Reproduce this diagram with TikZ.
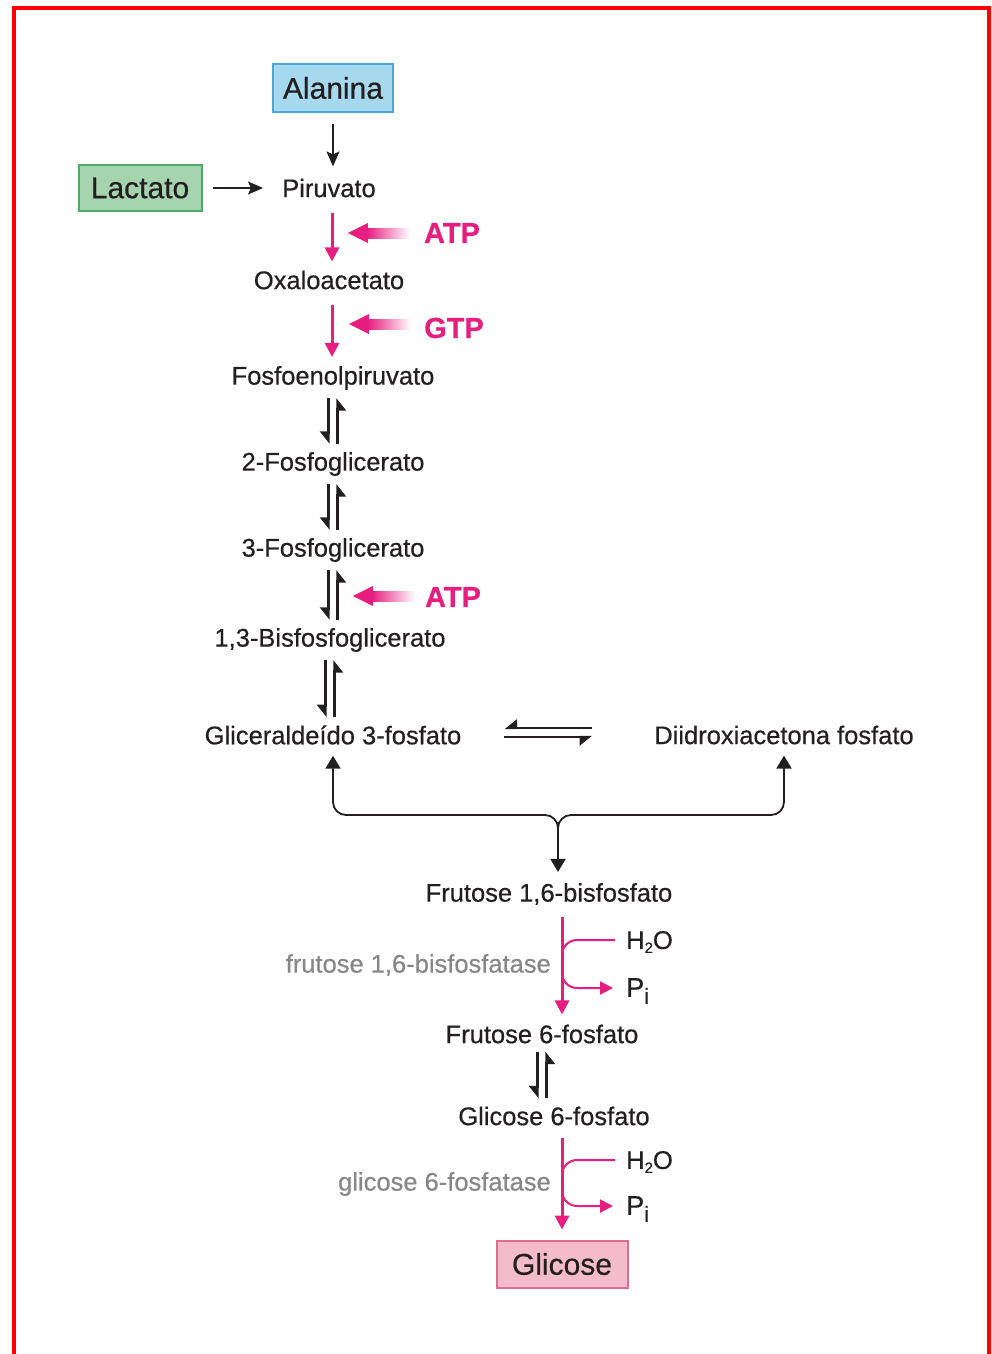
\documentclass[tikz,border=0pt]{standalone}
\usepackage{fontspec}
\setmainfont{Liberation Sans}[FakeBold=0.5]
\usetikzlibrary{arrows.meta,calc}
\definecolor{pinkarrow}{RGB}{231,30,128}
\definecolor{enzgray}{RGB}{135,135,135}
\definecolor{txt}{RGB}{35,31,32}
\definecolor{alafill}{RGB}{166,216,238}
\definecolor{aladraw}{RGB}{80,165,215}
\definecolor{lacfill}{RGB}{166,212,174}
\definecolor{lacdraw}{RGB}{76,170,100}
\definecolor{glcfill}{RGB}{244,188,202}
\definecolor{glcdraw}{RGB}{222,110,145}

\tikzset{
  met/.style={font=\fontsize{25.5}{30}\selectfont, text=txt, inner sep=0pt},
  enz/.style={font=\fontsize{25.5}{30}\selectfont, text=enzgray, inner sep=0pt, anchor=east},
  side/.style={font=\fontsize{25.5}{30}\selectfont, text=txt, inner sep=0pt, anchor=west},
  energy/.style={font=\fontsize{29}{32}\selectfont\bfseries, text=pinkarrow, inner sep=0pt},
  startbox/.style={font=\fontsize{30}{34}\selectfont, text=txt, inner sep=0pt, line width=2pt},
  blk/.style={draw=txt, line width=1.8pt, -{Stealth[length=15pt,width=13pt,inset=3pt]}},
  brk/.style={draw=txt, line width=1.8pt, rounded corners=13pt},
  brktip/.tip={Triangle[length=13pt,width=15pt]},
  pk/.style={draw=pinkarrow, line width=3pt, -{Triangle[length=14pt,width=14pt]}},
  pkbr/.style={draw=pinkarrow, line width=2pt, rounded corners=15pt},
  harp/.style={draw=txt, line width=2.4pt, -{Triangle[harpoon,swap,length=11pt,width=17pt]}},
}

% chemical formula pieces
\newcommand\water{H\raisebox{-4pt}{\fontsize{15}{15}\selectfont 2}O}
\newcommand\phosphate{{\fontsize{27}{30}\selectfont P}\raisebox{-7pt}{\fontsize{22}{22}\selectfont i}}

% two opposed half-arrows between two stacked metabolites
\newcommand\eqpair[3]{%
  \draw[harp, shorten <=#3, shorten >=#3] ([xshift=-4.5pt]#1.south) -- ([xshift=-4.5pt]#1.south |- #2.north);
  \draw[harp, shorten <=#3, shorten >=#3] ([xshift=4.5pt]#1.south |- #2.north) -- ([xshift=4.5pt]#1.south);
}
% faded energy arrow pointing left to the point #1
\newcommand\energyarrow[1]{%
  \fill[pinkarrow] (#1) -- ++(20,-10) -- ++(0,20) -- cycle;
  \shade[left color=pinkarrow, right color=white] ($(#1)+(19,-5)$) rectangle ($(#1)+(62,5)$);
}

\begin{document}
\begin{tikzpicture}[x=1pt,y=-1pt]
\useasboundingbox (0,0) rectangle (992,1354);

% frame
\draw[red, line width=4pt, line join=miter] (14,1364) -- (14,8) -- (989,8) -- (989,1364);

% starting substrates
\node[startbox, draw=aladraw, fill=alafill, minimum width=120pt, minimum height=47pt] (ala) at (333,88) {Alanina};
\node[startbox, draw=lacdraw, fill=lacfill, minimum width=123pt, minimum height=46pt] (lac) at (140,188) {Lactato};

% main pathway
\node[met] (piru) at (329,188) {Piruvato};
\node[met] (oxa) at (329,280) {Oxaloacetato};
\node[met] (pep) at (333,378) {Fosfoenolpiruvato};
\node[met] (pg2) at (333,464) {2-Fosfoglicerato};
\node[met] (pg3) at (333,550) {3-Fosfoglicerato};
\node[met] (bpg) at (330,640) {1,3-Bisfosfoglicerato};
\node[met] (gap) at (333,735) {Gliceraldeído 3-fosfato};
\node[met] (dhap) at (784,735) {Diidroxiacetona fosfato};
\node[met] (f16) at (549,894) {Frutose 1,6-bisfosfato};
\node[met] (f6p) at (542,1034) {Frutose 6-fosfato};
\node[met] (g6p) at (554,1116) {Glicose 6-fosfato};
\node[startbox, draw=glcdraw, fill=glcfill, minimum width=131pt, minimum height=47pt] (glc) at (562,1264) {Glicose};

% energy inputs
\node[energy] (atp1) at (452,233) {ATP};
\node[energy] (gtp) at (454,328) {GTP};
\node[energy] (atp2) at (453,597) {ATP};

% enzymes and side products
\node[enz] (fbpase) at (551,965) {frutose 1,6-bisfosfatase};
\node[enz] (g6pase) at (551,1184) {glicose 6-fosfatase};
\node[side] (h2o1) at (626,942) {\water};
\node[side] (pi1) at (626,991) {\phosphate};
\node[side] (h2o2) at (626,1162) {\water};
\node[side] (pi2) at (626,1209) {\phosphate};

% columns of the vertical connectors
\coordinate (colA) at (332,0);
\coordinate (colB) at (562,0);

% entry of alanine and lactate
\draw[blk, shorten <=11pt, shorten >=12pt] (ala.south) -- (ala.south |- piru.north);
\draw[blk, shorten <=10pt, shorten >=19pt] (lac.east) -- (piru.west);

% carboxylation and decarboxylation
\draw[pk, shorten <=15pt, shorten >=9pt] (colA |- piru.south) -- (colA |- oxa.north);
\draw[pk, shorten <=15pt, shorten >=9pt] (colA |- oxa.south) -- (colA |- pep.north);
\energyarrow{$(atp1.west)+(-76,0)$}
\energyarrow{$(gtp.west)+(-75,-4)$}
\energyarrow{$(atp2.west)+(-72,-1)$}

% reversible steps
\eqpair{pep}{pg2}{8pt}
\eqpair{pg2}{pg3}{8pt}
\eqpair{pg3}{bpg}{8pt}
\eqpair{bpg}{gap}{8pt}
\draw[harp] ([shift={(-62,-7)}]dhap.west) -- ([shift={(43,-7)}]gap.east);
\draw[harp] ([shift={(43,2)}]gap.east) -- ([shift={(-62,2)}]dhap.west);

% condensation of the two trioses
\coordinate (join) at (558,815);
\draw[brk, {brktip}-{brktip}] ($(gap.south)+(0,11)$) -- (gap.south |- join) -- (join) -- ($(join |- f16.north)+(0,-11)$);
\draw[brk, {brktip}-] ($(dhap.south)+(0,11)$) -- (dhap.south |- join) -- (join) -- ($(join)+(0,30)$);

% phosphatases
\draw[pk, shorten <=12pt, shorten >=10pt] (colB |- f16.south) -- (colB |- f6p.north);
\draw[pkbr] ($(h2o1.west)+(-11,-2)$) -- ($(colB |- h2o1.west)+(0,-2)$) -- ($(colB |- h2o1.west)+(0,22)$);
\draw[pkbr, -{Triangle[length=13pt,width=13pt]}] ($(colB |- pi1.west)+(0,-24)$) -- ($(colB |- pi1.west)+(0,-3)$) -- ($(pi1.west)+(-13,-3)$);
\eqpair{f6p}{g6p}{8pt}
\draw[pk, shorten <=12pt, shorten >=10pt] (colB |- g6p.south) -- (colB |- glc.north);
\draw[pkbr] ($(h2o2.west)+(-11,-2)$) -- ($(colB |- h2o2.west)+(0,-2)$) -- ($(colB |- h2o2.west)+(0,22)$);
\draw[pkbr, -{Triangle[length=13pt,width=13pt]}] ($(colB |- pi2.west)+(0,-24)$) -- ($(colB |- pi2.west)+(0,-3)$) -- ($(pi2.west)+(-13,-3)$);
\end{tikzpicture}
\end{document}
